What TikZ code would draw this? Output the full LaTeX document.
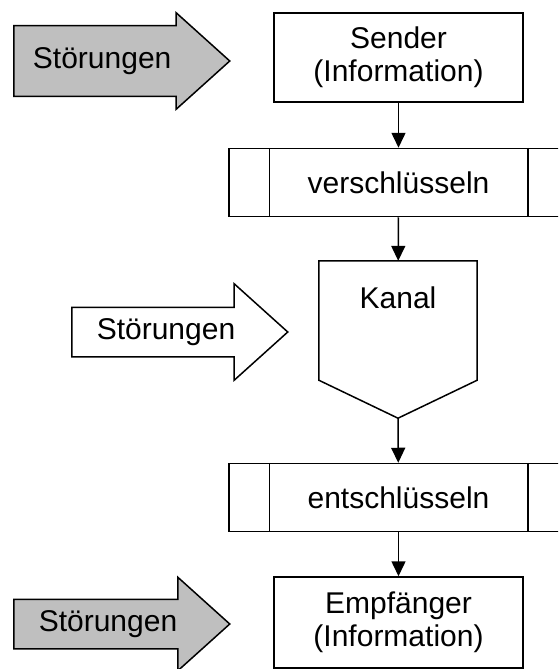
\documentclass[tikz,border=0pt]{standalone}
\usepackage{fontspec}
\setmainfont{Liberation Sans}
\usetikzlibrary{arrows.meta,shapes.arrows}

\begin{document}
\begin{tikzpicture}[
    x=1pt, y=-1pt,
    every node/.style={font=\fontsize{30pt}{33pt}\selectfont, align=center},
    line/.style={line width=1.5pt},
    box/.style={rectangle, draw, line, minimum width=249pt,
                minimum height=89pt, inner sep=2pt},
    process/.style={rectangle, draw, line, minimum width=339pt,
                    minimum height=68pt, inner sep=2pt},
    channel/.style={rectangle, minimum width=158pt, inner ysep=0pt,
                    text height=47pt, text depth=72pt},
    noise/.style={single arrow, draw, line, anchor=tail,
                  single arrow tip angle=84, minimum height=216pt,
                  inner xsep=13pt, inner ysep=9.5pt,
                  text height=22pt, text depth=7pt},
    noise gray/.style={noise, fill=black!25},
    >={Triangle[length=15pt, width=14pt]},
]
\clip (0,0) rectangle (558,669);

% ---------- Main chain (vertical spine) ----------
\node[box] (sender) at (398.5, 57.5)
    {Sender\\(Information)};

\node[process] (enc) at (398.5, 182.5)
    {verschlüsseln};

\node[channel] (kanal) at (398, 320.5)
    {Kanal};
\coordinate (kanal tip) at ([yshift=-38pt]kanal.south);

\node[process] (dec) at (398.5, 497.5)
    {entschlüsseln};

\node[box, minimum height=91pt] (empf) at (398.5, 622.5)
    {Empfänger\\(Information)};

% ---------- Extra strokes ----------
\draw[line] ([xshift=41pt]enc.north west) -- ([xshift=41pt]enc.south west);
\draw[line] ([xshift=-41pt]enc.north east) -- ([xshift=-41pt]enc.south east);
\draw[line] ([xshift=41pt]dec.north west) -- ([xshift=41pt]dec.south west);
\draw[line] ([xshift=-41pt]dec.north east) -- ([xshift=-41pt]dec.south east);

\draw[line] (kanal.south west) -- (kanal.north west) -- (kanal.north east)
    -- (kanal.south east) -- (kanal tip) -- cycle;

% ---------- Disturbances (left side) ----------
\node[noise gray, inner ysep=20pt, single arrow head extend=13pt]
    (noise1) at (13, 61) {Störungen};

\node[noise, single arrow head extend=23.5pt, fill=white]
    (noise2) at (71, 332) {Störungen};

\node[noise gray, single arrow head extend=22pt]
    (noise3) at (13, 624) {Störungen};

% ---------- Edges ----------
\draw[line, ->] (sender) -- (enc);
\draw[line, ->] (enc)    -- (kanal);
\draw[line, ->] (kanal tip) -- (dec);
\draw[line, ->] (dec)    -- (empf);

\end{tikzpicture}
\end{document}
